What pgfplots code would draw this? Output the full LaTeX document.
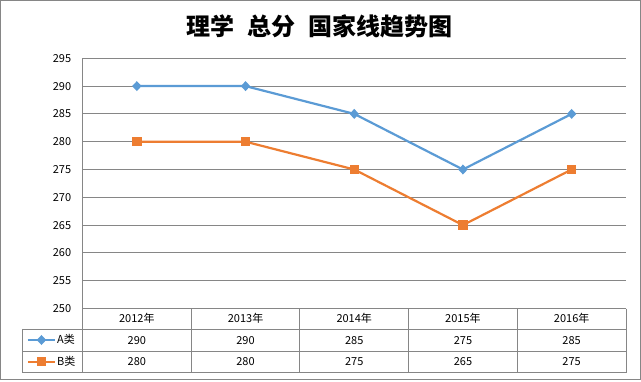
\documentclass[border=0pt]{standalone}
\usepackage{pgfplots}
\pgfplotsset{compat=1.18}
\usepackage{pgfplotstable}
\usepackage{fontspec}
\setmainfont{Noto Sans CJK SC}
\definecolor{serA}{HTML}{5B9BD5}
\definecolor{serB}{HTML}{ED7D31}
\definecolor{gridc}{HTML}{868686}
\pgfplotstableread{
x year A B
0 2012 290 280
1 2013 290 280
2 2014 285 275
3 2015 275 265
4 2016 285 275
}\scores
\begin{document}
\begin{tikzpicture}[x=1pt,y=1pt]
\path[use as bounding box] (0pt,0pt) rectangle (641pt,381pt);
\draw[gridc, line width=0.9pt] (0.6pt,1.7pt) rectangle (640.2pt,380.5pt);
\node[font=\fontsize{24}{28}\selectfont\bfseries] at (319.5pt,355pt) {理学\hspace{13pt}总分\hspace{13pt}国家线趋势图};
\begin{axis}[
  at={(82.5pt,72.5pt)}, anchor=south west,
  scale only axis, width=543.5pt, height=250.2pt,
  xmin=-0.5, xmax=4.5, ymin=250, ymax=295,
  ytick={250,255,...,295},
  xtick=\empty,
  axis x line*=bottom, axis y line*=left,
  axis line style={gridc, line width=0.9pt, -},
  ymajorgrids, grid style={gridc, line width=0.9pt},
  major tick length=0pt,
  tick label style={font=\fontsize{11}{13}\selectfont},
  yticklabel style={xshift=-7.8pt},
  /pgf/number format/assume math mode=true,
  clip=false,
  legend style={at={(-0.1027,-0.1693)}, anchor=west, draw=none, fill=none,
    font=\fontsize{11}{13}\selectfont, row sep=9pt, inner sep=0pt,
    nodes={inner sep=1pt}},
  legend cell align=left,
  legend image code/.code={\draw[mark repeat=2,mark phase=2,#1] plot coordinates {(0pt,0pt) (13.5pt,0pt) (27pt,0pt)};},
]
\addplot[serA, line width=2.2pt, mark=diamond*, mark size=3.4pt, mark options={solid, xscale=1.25}] table[x=x, y=A] {\scores};
\addlegendentry{A类}
\addplot[serB, line width=2.2pt, mark=square*, mark size=3.6pt, mark options={solid}] table[x=x, y=B] {\scores};
\addlegendentry{B类}
% data table
\addplot[draw=none, mark=none, forget plot, point meta=explicit symbolic,
  nodes near coords={\pgfplotspointmeta 年},
  nodes near coords style={anchor=center, text=black, font=\fontsize{11}{13}\selectfont}]
  table[x=x, y expr=248.156, meta=year] {\scores};
\addplot[draw=none, mark=none, forget plot, point meta=explicit symbolic,
  nodes near coords,
  nodes near coords style={anchor=center, text=black, font=\fontsize{11}{13}\selectfont}]
  table[x=x, y expr=244.307, meta=A] {\scores};
\addplot[draw=none, mark=none, forget plot, point meta=explicit symbolic,
  nodes near coords,
  nodes near coords style={anchor=center, text=black, font=\fontsize{11}{13}\selectfont}]
  table[x=x, y expr=240.378, meta=B] {\scores};
\draw[gridc, line width=0.9pt] (axis cs:-0.5,250) -- (axis cs:-0.5,238.453);
\draw[gridc, line width=0.9pt] (axis cs:-1.051,246.313) -- (axis cs:4.5,246.313);
\draw[gridc, line width=0.9pt] (axis cs:-1.051,242.302) -- (axis cs:4.5,242.302);
\draw[gridc, line width=0.9pt] (axis cs:-1.051,238.453) -- (axis cs:4.5,238.453);
\draw[gridc, line width=0.9pt] (axis cs:-1.051,246.313) -- (axis cs:-1.051,238.453);
\draw[gridc, line width=0.9pt] (axis cs:0.5,250) -- (axis cs:0.5,238.453);
\draw[gridc, line width=0.9pt] (axis cs:1.5,250) -- (axis cs:1.5,238.453);
\draw[gridc, line width=0.9pt] (axis cs:2.5,250) -- (axis cs:2.5,238.453);
\draw[gridc, line width=0.9pt] (axis cs:3.5,250) -- (axis cs:3.5,238.453);
\draw[gridc, line width=0.9pt] (axis cs:4.5,250) -- (axis cs:4.5,238.453);
\end{axis}
\end{tikzpicture}
\end{document}
